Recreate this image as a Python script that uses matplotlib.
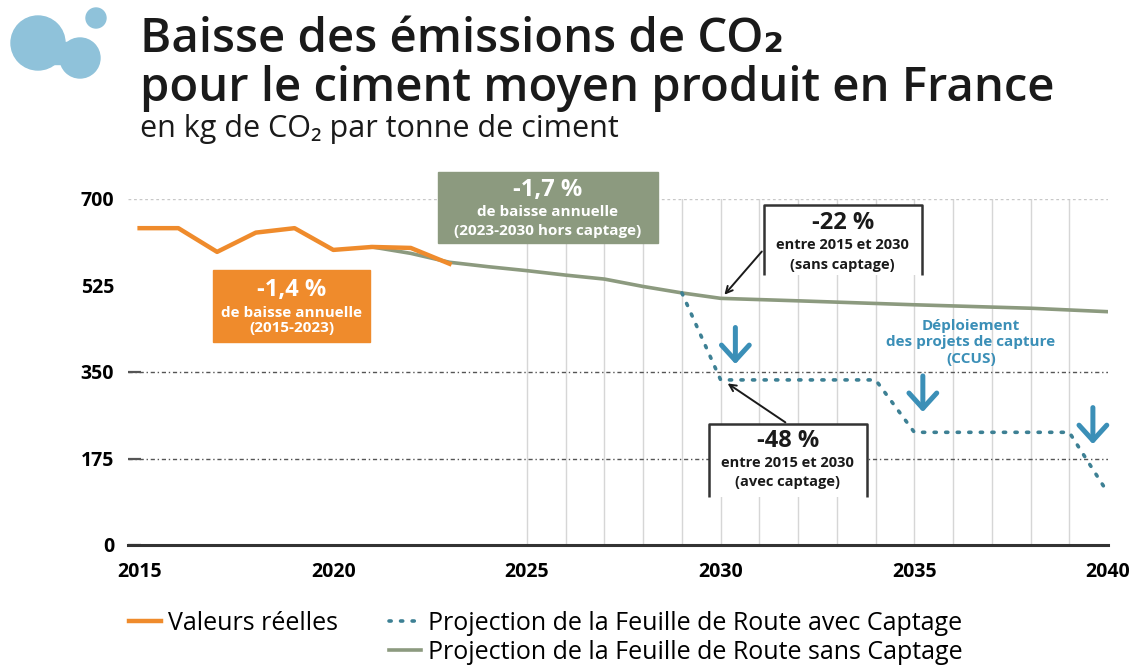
import numpy as np
import matplotlib.pyplot as plt
from matplotlib.patches import Rectangle, Circle
from matplotlib.lines import Line2D

plt.rcParams['font.family'] = ['Open Sans', 'DejaVu Sans']

# valeurs (kg CO2 / t ciment)
annees_reelles = [2015, 2016, 2017, 2018, 2019, 2020, 2021, 2022, 2023]
valeurs_reelles = [641, 641, 593, 632, 641, 597, 603, 601, 569]

annees_sans = [2021, 2022, 2023, 2024, 2025, 2026, 2027, 2028, 2029, 2030,
               2032, 2035, 2038, 2040]
valeurs_sans = [603, 590, 572, 563, 555, 546, 538, 523, 510, 499,
                494, 486, 479, 472]

annees_avec = [2029, 2030, 2034, 2035, 2039, 2040]
valeurs_avec = [510, 334, 334, 228, 228, 105]

y_ticks = [0, 175, 350, 525, 700]
x_ticks = [2015, 2020, 2025, 2030, 2035, 2040]
annees_grille = list(range(2025, 2040))

ORANGE = '#ef8b2c'
VERT = '#8c9a7f'
TEAL = '#3d8094'
BLEU = '#3b8fb7'
NOIR = '#1a1a1a'

fig = plt.figure(figsize=(11.36, 6.69), dpi=100)
ax = fig.add_axes([128/1136, 1 - 545/669, 980/1136, 346/669])
ax.set_xlim(2014.7, 2040)
ax.set_ylim(0, 700)

for s in ['top', 'right', 'left']:
    ax.spines[s].set_visible(False)
ax.spines['bottom'].set_linewidth(2.2)
ax.spines['bottom'].set_color('#333333')

# grille
for a in annees_grille:
    ax.plot([a, a], [0, 700], color='#d6d6d6', lw=1, zorder=1)
ax.axhline(700, color='#c8c8c8', lw=1, ls=(0, (2, 2)), zorder=1)
for v in [350, 175]:
    ax.axhline(v, color='#555555', lw=1, ls=(0, (3, 2, 1, 2)), zorder=1)

ax.set_yticks(y_ticks)
ax.set_yticklabels([str(v) for v in y_ticks])
ax.tick_params(axis='y', length=9, width=1.6, color='#555555', direction='in',
               pad=10, labelsize=14)
for i, t in enumerate(ax.yaxis.get_major_ticks()):
    if y_ticks[i] in (525, 700):
        t.tick1line.set_visible(False)
ax.set_xticks(x_ticks)
ax.tick_params(axis='x', length=0, pad=12, labelsize=14)
for lab in ax.get_xticklabels() + ax.get_yticklabels():
    lab.set_fontweight('bold')

# séries
ax.plot(annees_sans, valeurs_sans, color=VERT, lw=2.6, zorder=3,
        label='Projection de la Feuille de Route sans Captage')
ax.plot(annees_avec, valeurs_avec, color=TEAL, lw=2.6, ls=(0, (0.6, 2.6)),
        dash_capstyle='round', zorder=3,
        label='Projection de la Feuille de Route avec Captage')
ax.plot(annees_reelles, valeurs_reelles, color=ORANGE, lw=3.2, zorder=4,
        label='Valeurs réelles')

# encadré orange
ax.add_patch(Rectangle((2016.9, 410), 4.05, 146, color=ORANGE, zorder=5))
ax.text(2018.92, 516, '-1,4 %', color='white', fontsize=17, fontweight='bold',
        ha='center', va='center', zorder=6)
ax.text(2018.92, 470, 'de baisse annuelle', color='white', fontsize=11,
        fontweight='bold', ha='center', va='center', zorder=6)
ax.text(2018.92, 439, '(2015-2023)', color='white', fontsize=11,
        fontweight='bold', ha='center', va='center', zorder=6)

# encadré vert
ax.add_patch(Rectangle((2022.7, 611), 5.67, 144, color=VERT, zorder=5,
                       clip_on=False))
ax.text(2025.53, 718, '-1,7 %', color='white', fontsize=17, fontweight='bold',
        ha='center', va='center', zorder=6)
ax.text(2025.53, 673, 'de baisse annuelle', color='white', fontsize=11,
        fontweight='bold', ha='center', va='center', zorder=6)
ax.text(2025.53, 635, '(2023-2030 hors captage)', color='white', fontsize=11,
        fontweight='bold', ha='center', va='center', zorder=6)


def encadre(x0, x1, y_haut, y_bas, xc, titre, l1, l2, ys):
    ax.add_patch(Rectangle((x0, y_bas), x1 - x0, y_haut - y_bas,
                           facecolor='white', edgecolor='none', zorder=5))
    ax.plot([x0, x0, x1, x1], [y_bas, y_haut, y_haut, y_bas],
            color='#333333', lw=1.8, zorder=6, solid_capstyle='butt')
    ax.text(xc, ys[0], titre, fontsize=17, fontweight='bold', color=NOIR,
            ha='center', va='center', zorder=7)
    ax.text(xc, ys[1], l1, fontsize=10.5, fontweight='bold', color=NOIR,
            ha='center', va='center', zorder=7)
    ax.text(xc, ys[2], l2, fontsize=10.5, fontweight='bold', color=NOIR,
            ha='center', va='center', zorder=7)


encadre(2031.11, 2035.19, 688, 546, 2033.15, '-22 %', 'entre 2015 et 2030',
        '(sans captage)', [652, 606, 566])
encadre(2029.69, 2033.77, 245, 97, 2031.73, '-48 %', 'entre 2015 et 2030',
        '(avec captage)', [210, 166, 127])

ax.annotate('', xy=(2030.05, 502), xytext=(2031.11, 598),
            arrowprops=dict(arrowstyle='->', color=NOIR, lw=1.4,
                            mutation_scale=12), zorder=6)
ax.annotate('', xy=(2030.12, 330), xytext=(2031.73, 245),
            arrowprops=dict(arrowstyle='->', color=NOIR, lw=1.4,
                            mutation_scale=12), zorder=6)

# CCUS
ax.text(2036.46, 410, 'Déploiement\ndes projets de capture\n(CCUS)',
        color=BLEU, fontsize=11, fontweight='bold', ha='center', va='center',
        linespacing=1.25, zorder=6)
for xa, y0, y1 in [(2030.38, 440, 366), (2035.22, 342, 269), (2039.61, 278, 204)]:
    ax.annotate('', xy=(xa, y1), xytext=(xa, y0),
                arrowprops=dict(arrowstyle='->,head_width=0.5,head_length=0.55',
                                color=BLEU, lw=3.6, mutation_scale=20,
                                shrinkA=0, shrinkB=0),
                zorder=6)

# légende
vide = Line2D([], [], alpha=0)
h = ax.get_legend_handles_labels()[0]
leg = fig.legend([h[2], vide, h[1], h[0]],
                 ['Valeurs réelles', '', h[1].get_label(), h[0].get_label()],
                 ncol=2, loc='upper left', bbox_to_anchor=(106/1136, 1 - 588/669),
                 frameon=False, fontsize=18, handlelength=1.3, handletextpad=0.3,
                 columnspacing=2.0, labelspacing=0.18)

# titre
fig.text(140/1136, 1 - 40/669, 'Baisse des émissions de CO₂', fontsize=34,
         fontweight='semibold', color=NOIR, va='center', ha='left')
fig.text(140/1136, 1 - 88/669, 'pour le ciment moyen produit en France',
         fontsize=34, fontweight='semibold', color=NOIR, va='center', ha='left')
fig.text(140/1136, 1 - 129/669, 'en kg de CO₂ par tonne de ciment', fontsize=22,
         color=NOIR, va='center', ha='left')

# logo
lax = fig.add_axes([0, 1 - 90/669, 130/1136, 90/669])
lax.set_xlim(0, 130)
lax.set_ylim(90, 0)
lax.axis('off')
for cx, cy, r in [(38, 43, 27), (80, 58, 20), (96, 18, 10)]:
    lax.add_patch(Circle((cx, cy), r, color='#8fc2da'))
lax.add_patch(Rectangle((45, 42), 30, 22, color='#8fc2da'))

fig.savefig('out.png', dpi=100)
